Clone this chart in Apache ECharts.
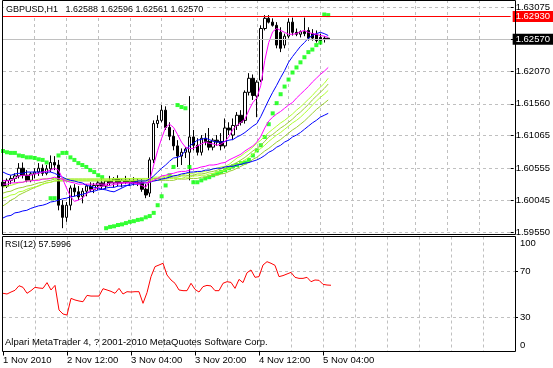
<!DOCTYPE html>
<html><head><meta charset="utf-8">
<script src="https://cdn.jsdelivr.net/npm/echarts@6/dist/echarts.min.js"></script>
<style>html,body{margin:0;padding:0;background:#fff}#c{width:553px;height:368px}</style>
</head><body><div id="c"></div>
<script>
const symbolName = 'GBPUSD,H1';
const rsiPeriod = 12;
const copyrightText = 'Alpari MetaTrader 4, ? 2001-2010 MetaQuotes Software Corp.';
const xLabels = ['1 Nov 2010','2 Nov 12:00','3 Nov 04:00','3 Nov 20:00','4 Nov 12:00','5 Nov 04:00'];
const labelStep = 16;
const gridStep = 8;
const totalSlots = 129;
const priceTickValues = [1.5955,1.60045,1.60555,1.61065,1.6156,1.6207,1.62575,1.63075];
const priceLabelValues = [1.5955,1.60045,1.60555,1.61065,1.6156,1.6207,1.63075];
const rsiGridValues = [30,70];
const rsiLabelValues = [0,30,70,100];
const alertLevel = 1.6293;
const bidLevel = 1.6257;

const openP = [
1.6033,1.6027,1.6036,1.6039,1.6043,1.6055,1.6044,1.6036,1.6046,1.6049,
1.6055,1.6047,1.6054,1.6064,1.6060,1.5997,1.5978,1.5997,1.6024,1.6018,
1.6011,1.6019,1.6027,1.6022,1.6028,1.6032,1.6027,1.6035,1.6032,1.6038,
1.6032,1.6036,1.6033,1.6035,1.6032,1.6033,1.6022,1.6016,1.6068,1.6125,
1.6130,1.6146,1.6119,1.6105,1.6090,1.6074,1.6080,1.6080,1.6104,1.6091,
1.6080,1.6102,1.6097,1.6088,1.6099,1.6097,1.6090,1.6118,1.6107,1.6122,
1.6138,1.6130,1.6174,1.6196,1.6168,1.6193,1.6274,1.6290,1.6284,1.6279,
1.6268,1.6248,1.6262,1.6284,1.6268,1.6265,1.6269,1.6271,1.6266,1.6265,
1.6260,1.6259,1.62588];
const highP = [
1.6043,1.6039,1.6044,1.6047,1.6063,1.6064,1.6052,1.6049,1.6055,1.6063,
1.6061,1.6060,1.6075,1.6074,1.6068,1.6005,1.6002,1.6028,1.6030,1.6027,
1.6024,1.6030,1.6033,1.6032,1.6036,1.6039,1.6036,1.6043,1.6041,1.6044,
1.6039,1.6043,1.6039,1.6041,1.6039,1.6038,1.6030,1.6072,1.6130,1.6138,
1.6154,1.6152,1.6127,1.6115,1.6099,1.6086,1.6088,1.6168,1.6115,1.6102,
1.6107,1.6110,1.6118,1.6102,1.6107,1.6110,1.6133,1.6127,1.6133,1.6143,
1.6146,1.6177,1.6204,1.6202,1.6193,1.6279,1.6295,1.6295,1.6290,1.6284,
1.6276,1.6266,1.6290,1.6291,1.6274,1.6271,1.6291,1.6276,1.6273,1.6271,
1.6266,1.6262,1.62596];
const lowP = [
1.6021,1.6024,1.6030,1.6033,1.6039,1.6039,1.6033,1.6033,1.6039,1.6043,
1.6043,1.6044,1.6049,1.6052,1.5989,1.5961,1.5971,1.5989,1.6011,1.6005,
1.6000,1.6011,1.6018,1.6016,1.6021,1.6021,1.6022,1.6027,1.6025,1.6027,
1.6025,1.6030,1.6027,1.6028,1.6027,1.6018,1.6008,1.6010,1.6063,1.6118,
1.6127,1.6115,1.6099,1.6083,1.6057,1.6060,1.6071,1.6036,1.6083,1.6075,
1.6075,1.6091,1.6083,1.6083,1.6090,1.6083,1.6086,1.6107,1.6099,1.6115,
1.6122,1.6125,1.6169,1.6162,1.6135,1.6190,1.6271,1.6282,1.6277,1.6243,
1.6237,1.6243,1.6259,1.6263,1.6262,1.6260,1.6262,1.6255,1.6255,1.6252,
1.6249,1.6252,1.62561];
const closeP = [
1.6027,1.6036,1.6039,1.6043,1.6055,1.6044,1.6036,1.6046,1.6049,1.6055,
1.6047,1.6054,1.6064,1.6060,1.5997,1.5978,1.5997,1.6024,1.6018,1.6010,
1.6019,1.6027,1.6022,1.6028,1.6032,1.6027,1.6035,1.6032,1.6038,1.6032,
1.6036,1.6033,1.6035,1.6032,1.6033,1.6022,1.6013,1.6068,1.6125,1.6130,
1.6146,1.6119,1.6105,1.6090,1.6074,1.6080,1.6085,1.6104,1.6091,1.6080,
1.6102,1.6097,1.6088,1.6099,1.6096,1.6090,1.6118,1.6115,1.6122,1.6138,
1.6127,1.6174,1.6196,1.6169,1.6190,1.6274,1.6290,1.6284,1.6279,1.6248,
1.6243,1.6262,1.6284,1.6268,1.6265,1.6269,1.6266,1.6259,1.6259,1.6255,
1.6255,1.6257,1.62570];

const maFastPink = [
1.6036,1.6035,1.6036,1.6039,1.6043,1.6044,1.6044,1.6044,1.6046,1.6047,
1.6049,1.6050,1.6052,1.6055,1.6052,1.6039,1.6024,1.6011,1.6003,1.6005,
1.6008,1.6014,1.6021,1.6022,1.6025,1.6027,1.6028,1.6028,1.6030,1.6030,
1.6032,1.6032,1.6032,1.6032,1.6030,1.6028,1.6025,1.6036,1.6060,1.6083,
1.6102,1.6119,1.6124,1.6119,1.6108,1.6096,1.6088,1.6086,1.6086,1.6090,
1.6093,1.6096,1.6094,1.6093,1.6091,1.6093,1.6097,1.6105,1.6116,1.6122,
1.6127,1.6132,1.6146,1.6158,1.6165,1.6185,1.6224,1.6252,1.6269,1.6274,
1.6271,1.6268,1.6265,1.6265,1.6266,1.6269,1.6271,1.6268,1.6266,1.6265,
1.6263,1.6262,1.6260];
const maFastBlue = [
1.6049,1.6046,1.6044,1.6046,1.6047,1.6047,1.6049,1.6049,1.6049,1.6049,
1.6049,1.6049,1.6049,1.6047,1.6044,1.6041,1.6038,1.6036,1.6035,1.6033,
1.6032,1.6028,1.6027,1.6025,1.6024,1.6022,1.6021,1.6019,1.6018,1.6021,
1.6024,1.6027,1.6030,1.6033,1.6035,1.6035,1.6035,1.6038,1.6043,1.6049,
1.6055,1.6060,1.6066,1.6071,1.6072,1.6075,1.6083,1.6090,1.6094,1.6099,
1.6100,1.6102,1.6100,1.6097,1.6096,1.6096,1.6097,1.6099,1.6100,1.6104,
1.6107,1.6111,1.6116,1.6121,1.6125,1.6136,1.6149,1.6162,1.6174,1.6185,
1.6197,1.6208,1.6221,1.6230,1.6238,1.6246,1.6252,1.6259,1.6263,1.6266,
1.6268,1.6266,1.6263];
const maSlowPink = [
1.6030,1.6030,1.6032,1.6032,1.6033,1.6033,1.6035,1.6035,1.6036,1.6036,
1.6038,1.6038,1.6039,1.6041,1.6039,1.6038,1.6035,1.6033,1.6032,1.6030,
1.6030,1.6030,1.6030,1.6030,1.6030,1.6030,1.6030,1.6032,1.6032,1.6032,
1.6032,1.6032,1.6032,1.6032,1.6032,1.6032,1.6032,1.6033,1.6036,1.6039,
1.6043,1.6044,1.6046,1.6047,1.6049,1.6050,1.6050,1.6052,1.6054,1.6055,
1.6057,1.6058,1.6060,1.6060,1.6061,1.6063,1.6064,1.6068,1.6071,1.6074,
1.6077,1.6082,1.6086,1.6090,1.6096,1.6105,1.6118,1.6129,1.6135,1.6140,
1.6144,1.6149,1.6154,1.6158,1.6165,1.6171,1.6177,1.6183,1.6190,1.6196,
1.6202,1.6207,1.6213];
const maGreen1 = [
1.6025,1.6027,1.6028,1.6030,1.6032,1.6033,1.6035,1.6036,1.6036,1.6038,
1.6038,1.6039,1.6039,1.6039,1.6039,1.6039,1.6038,1.6038,1.6038,1.6038,
1.6038,1.6038,1.6038,1.6038,1.6038,1.6038,1.6038,1.6038,1.6039,1.6039,
1.6039,1.6039,1.6039,1.6039,1.6039,1.6039,1.6039,1.6039,1.6041,1.6041,
1.6041,1.6043,1.6043,1.6043,1.6043,1.6044,1.6046,1.6047,1.6047,1.6049,
1.6049,1.6050,1.6052,1.6054,1.6055,1.6057,1.6058,1.6061,1.6066,1.6071,
1.6074,1.6079,1.6083,1.6088,1.6094,1.6099,1.6105,1.6111,1.6116,1.6121,
1.6126,1.6130,1.6135,1.6140,1.6146,1.6151,1.6157,1.6163,1.6169,1.6176,
1.6182,1.6188,1.6196];
const maGreen2 = [
1.6016,1.6018,1.6019,1.6022,1.6024,1.6025,1.6027,1.6028,1.6030,1.6032,
1.6033,1.6035,1.6036,1.6038,1.6038,1.6038,1.6038,1.6038,1.6038,1.6038,
1.6038,1.6038,1.6038,1.6038,1.6038,1.6038,1.6038,1.6038,1.6038,1.6038,
1.6038,1.6038,1.6038,1.6038,1.6038,1.6038,1.6038,1.6038,1.6039,1.6039,
1.6039,1.6041,1.6041,1.6041,1.6041,1.6043,1.6043,1.6044,1.6044,1.6046,
1.6046,1.6047,1.6049,1.6050,1.6052,1.6054,1.6055,1.6058,1.6061,1.6064,
1.6068,1.6072,1.6077,1.6082,1.6086,1.6091,1.6097,1.6104,1.6108,1.6113,
1.6118,1.6122,1.6127,1.6132,1.6138,1.6143,1.6149,1.6155,1.6162,1.6168,
1.6174,1.6180,1.6187];
const maGreen3 = [
1.6008,1.6010,1.6013,1.6014,1.6018,1.6019,1.6022,1.6024,1.6025,1.6028,
1.6030,1.6032,1.6033,1.6035,1.6036,1.6036,1.6036,1.6036,1.6036,1.6036,
1.6036,1.6036,1.6036,1.6036,1.6036,1.6036,1.6036,1.6036,1.6036,1.6036,
1.6036,1.6036,1.6036,1.6036,1.6036,1.6036,1.6036,1.6036,1.6038,1.6038,
1.6038,1.6038,1.6039,1.6039,1.6039,1.6039,1.6041,1.6041,1.6043,1.6043,
1.6044,1.6044,1.6046,1.6047,1.6049,1.6050,1.6052,1.6055,1.6058,1.6061,
1.6064,1.6068,1.6072,1.6077,1.6082,1.6086,1.6091,1.6097,1.6102,1.6107,
1.6111,1.6116,1.6121,1.6126,1.6130,1.6135,1.6141,1.6147,1.6154,1.6160,
1.6166,1.6171,1.6177];
const maGreen4 = [
1.5996,1.6000,1.6005,1.6008,1.6013,1.6016,1.6019,1.6022,1.6025,1.6027,
1.6030,1.6032,1.6033,1.6035,1.6035,1.6035,1.6035,1.6035,1.6035,1.6035,
1.6035,1.6035,1.6035,1.6035,1.6035,1.6035,1.6035,1.6035,1.6035,1.6035,
1.6035,1.6035,1.6035,1.6035,1.6035,1.6035,1.6035,1.6035,1.6035,1.6036,
1.6036,1.6036,1.6036,1.6036,1.6038,1.6038,1.6038,1.6039,1.6039,1.6039,
1.6041,1.6041,1.6043,1.6044,1.6044,1.6046,1.6047,1.6050,1.6052,1.6055,
1.6058,1.6061,1.6064,1.6069,1.6072,1.6077,1.6082,1.6086,1.6091,1.6096,
1.6100,1.6105,1.6110,1.6115,1.6119,1.6124,1.6129,1.6135,1.6141,1.6147,
1.6152,1.6157,1.6162];
const maSlowBlue = [
1.5977,1.5980,1.5981,1.5985,1.5986,1.5988,1.5989,1.5992,1.5994,1.5996,
1.5997,1.5999,1.6002,1.6003,1.6005,1.6007,1.6008,1.6010,1.6011,1.6013,
1.6014,1.6016,1.6018,1.6019,1.6021,1.6022,1.6024,1.6025,1.6025,1.6027,
1.6027,1.6028,1.6028,1.6030,1.6030,1.6032,1.6032,1.6033,1.6035,1.6036,
1.6038,1.6039,1.6041,1.6043,1.6044,1.6046,1.6047,1.6049,1.6049,1.6050,
1.6050,1.6052,1.6052,1.6054,1.6055,1.6055,1.6057,1.6058,1.6058,1.6060,
1.6061,1.6063,1.6064,1.6066,1.6068,1.6071,1.6075,1.6080,1.6083,1.6088,
1.6091,1.6096,1.6099,1.6104,1.6107,1.6111,1.6116,1.6121,1.6126,1.6130,
1.6135,1.6138,1.6141];
const sarValues = [
1.6082,1.6080,1.6079,1.6079,1.6075,1.6074,1.6072,1.6072,1.6071,1.6069,
1.6068,1.6064,1.6008,1.6008,1.6075,1.6079,1.6079,1.6072,1.6068,1.6063,
1.6060,1.6057,1.6052,1.6049,1.6044,1.6041,1.5961,1.5963,1.5964,1.5966,
1.5967,1.5969,1.5971,1.5972,1.5974,1.5975,1.5978,1.5980,1.5985,1.5997,
1.6011,1.6028,1.6044,1.6057,1.6154,1.6151,1.6149,1.6057,1.6033,1.6033,
1.6036,1.6039,1.6041,1.6044,1.6047,1.6049,1.6052,1.6055,1.6058,1.6060,
1.6063,1.6064,1.6068,1.6075,1.6083,1.6091,1.6104,1.6124,1.6141,1.6157,
1.6171,1.6183,1.6194,1.6205,1.6213,1.6221,1.6229,1.6237,1.6241,1.6248,
1.6252,1.6296,1.6295];
const rsiValues = [
50.6,50.0,51.7,53.2,57.2,55.8,50.6,52.9,55.8,55.2,
54.9,59.9,53.5,57.5,36.1,32.6,31.7,46.2,44.8,43.9,
43.3,48.8,48.2,48.2,48.2,54.6,53.5,52.3,50.6,54.9,
50.0,52.0,51.7,52.0,52.0,41.9,51.2,65.1,73.8,75.2,
76.7,66.5,62.2,59.3,53.5,52.9,52.9,59.3,54.0,51.7,
56.4,57.5,57.0,52.9,52.9,59.3,60.7,60.1,54.9,62.7,
59.9,68.5,70.9,64.5,65.1,75.2,78.1,76.7,74.9,65.1,
66.0,67.4,68.8,64.5,63.6,63.6,64.5,60.7,62.2,61.9,
58.4,57.8,57.5996];

const FONT = '"Liberation Sans", Arial, sans-serif';
const chart = echarts.init(document.getElementById('c'), null, {renderer: 'canvas', width: 553, height: 368});

const cats = [];
for (let i = 0; i < totalSlots; i++) {
  const k = i / labelStep;
  cats.push(i % labelStep === 0 && k < xLabels.length ? xLabels[k] : '');
}
const candleData = openP.map((o, i) => [o, closeP[i], lowP[i], highP[i]]);
const last = openP.length - 1;
const headText = symbolName + '   ' + [openP[last], highP[last], lowP[last], closeP[last]].map(v => v.toFixed(5)).join(' ');
const rsiText = 'RSI(' + rsiPeriod + ') ' + rsiValues[last].toFixed(4);

const vGrid = {show: true, interval: (i) => i % gridStep === 0 && i > 0 && i < totalSlots - 1,
  lineStyle: {color: '#c0c0c0', type: [3, 3], width: 1}};
const hGridStyle = {color: '#c0c0c0', type: [3, 3], width: 1};

function maLine(data, color) {
  return {type: 'line', xAxisIndex: 0, yAxisIndex: 0, data: data, showSymbol: false, symbol: 'none',
    lineStyle: {color: color, width: 1}, itemStyle: {color: color}, silent: true, animation: false};
}
function levelLine(level, lineColor, boxColor, z) {
  return {type: 'line', xAxisIndex: 0, yAxisIndex: 0, data: [], silent: true, z: z,
    markLine: {symbol: ['none', 'none'], silent: true, animation: false, precision: 5,
      lineStyle: {color: lineColor, type: 'solid', width: 1},
      label: {show: true, position: 'end', distance: 2, formatter: level.toFixed(5),
        backgroundColor: boxColor, color: '#fff', padding: [1, 4, 0, 3], fontFamily: FONT, fontSize: 9.5},
      data: [{yAxis: level}]}};
}

const option = {
  animation: false,
  title: [
    {text: headText, left: 4, top: 0, padding: [4, 4, 0, 2], backgroundColor: '#fff',
      textStyle: {fontFamily: FONT, fontSize: 9, fontWeight: 'normal', color: '#000', lineHeight: 11}},
    {text: rsiText, left: 5, top: 240, padding: 0,
      textStyle: {fontFamily: FONT, fontSize: 9, fontWeight: 'normal', color: '#000'}},
    {text: copyrightText, left: 5, top: 337, padding: 0,
      textStyle: {fontFamily: FONT, fontSize: 9.5, fontWeight: 'normal', color: '#000'}}
  ],
  grid: [
    {left: 3, top: 0, width: 512, height: 234.5},
    {left: 3, top: 236.5, width: 512, height: 115}
  ],
  xAxis: [
    {type: 'category', gridIndex: 0, data: cats, boundaryGap: false,
      axisLine: {show: false}, axisTick: {show: false}, axisLabel: {show: false}, splitLine: vGrid},
    {type: 'category', gridIndex: 1, data: cats, boundaryGap: false,
      axisLine: {show: false},
      axisTick: {show: true, length: 4, interval: (i) => cats[i] !== '', lineStyle: {color: '#000'}},
      axisLabel: {interval: (i) => cats[i] !== '', align: 'left', margin: 4, fontFamily: FONT, fontSize: 9.5, color: '#000'},
      splitLine: vGrid}
  ],
  yAxis: [
    {type: 'value', gridIndex: 0, position: 'right', min: 1.59511, max: 1.63187,
      axisLine: {show: false},
      axisTick: {show: true, length: 3, customValues: priceTickValues, lineStyle: {color: '#000'}},
      axisLabel: {customValues: priceLabelValues, formatter: (v) => v.toFixed(5), margin: 5,
        fontFamily: FONT, fontSize: 9.5, color: '#000'},
      splitLine: {show: true, lineStyle: hGridStyle}},
    {type: 'value', gridIndex: 1, position: 'right', min: 0, max: 100,
      axisLine: {show: false},
      axisTick: {show: true, length: 3, customValues: rsiGridValues, lineStyle: {color: '#000'}},
      axisLabel: {customValues: rsiLabelValues, margin: 5, fontFamily: FONT, fontSize: 9.5, color: '#000',
        formatter: (v) => v === 100 ? '{t|100}' : (v === 0 ? '{b|0}' : String(v)),
        rich: {t: {padding: [13, 0, 0, 0], fontFamily: FONT, fontSize: 9.5, color: '#000'},
               b: {padding: [0, 0, 13, 0], fontFamily: FONT, fontSize: 9.5, color: '#000'}}},
      splitLine: {show: true, lineStyle: hGridStyle}}
  ],
  series: [
    levelLine(bidLevel, '#c0c0c0', '#000000', 1),
    {type: 'candlestick', xAxisIndex: 0, yAxisIndex: 0, data: candleData, barWidth: 3,
      itemStyle: {color: '#ffffff', color0: '#000000', borderColor: '#000000', borderColor0: '#000000', borderWidth: 1},
      silent: true},
    maLine(maGreen4, '#9acd32'),
    maLine(maGreen3, '#adff2f'),
    maLine(maGreen2, '#9acd32'),
    maLine(maGreen1, '#adff2f'),
    maLine(maSlowBlue, '#0000ff'),
    maLine(maSlowPink, '#ff00ff'),
    maLine(maFastBlue, '#0000ff'),
    maLine(maFastPink, '#ff00ff'),
    {type: 'scatter', xAxisIndex: 0, yAxisIndex: 0, data: sarValues, symbol: 'rect', symbolSize: 4,
      itemStyle: {color: '#00ff00'}, silent: true},
    levelLine(alertLevel, '#ff0000', '#ff0000', 8),
    {type: 'line', xAxisIndex: 1, yAxisIndex: 1, data: rsiValues, showSymbol: false, symbol: 'none',
      lineStyle: {color: '#ff0000', width: 1}, silent: true}
  ],
  graphic: [
    {type: 'rect', z: 100, silent: true, shape: {x: 2.5, y: 0.5, width: 513, height: 234},
      style: {fill: 'none', stroke: '#000', lineWidth: 1}},
    {type: 'rect', z: 100, silent: true, shape: {x: 2.5, y: 236.5, width: 513, height: 115},
      style: {fill: 'none', stroke: '#000', lineWidth: 1}}
  ]
};
chart.setOption(option);
</script>
</body></html>
